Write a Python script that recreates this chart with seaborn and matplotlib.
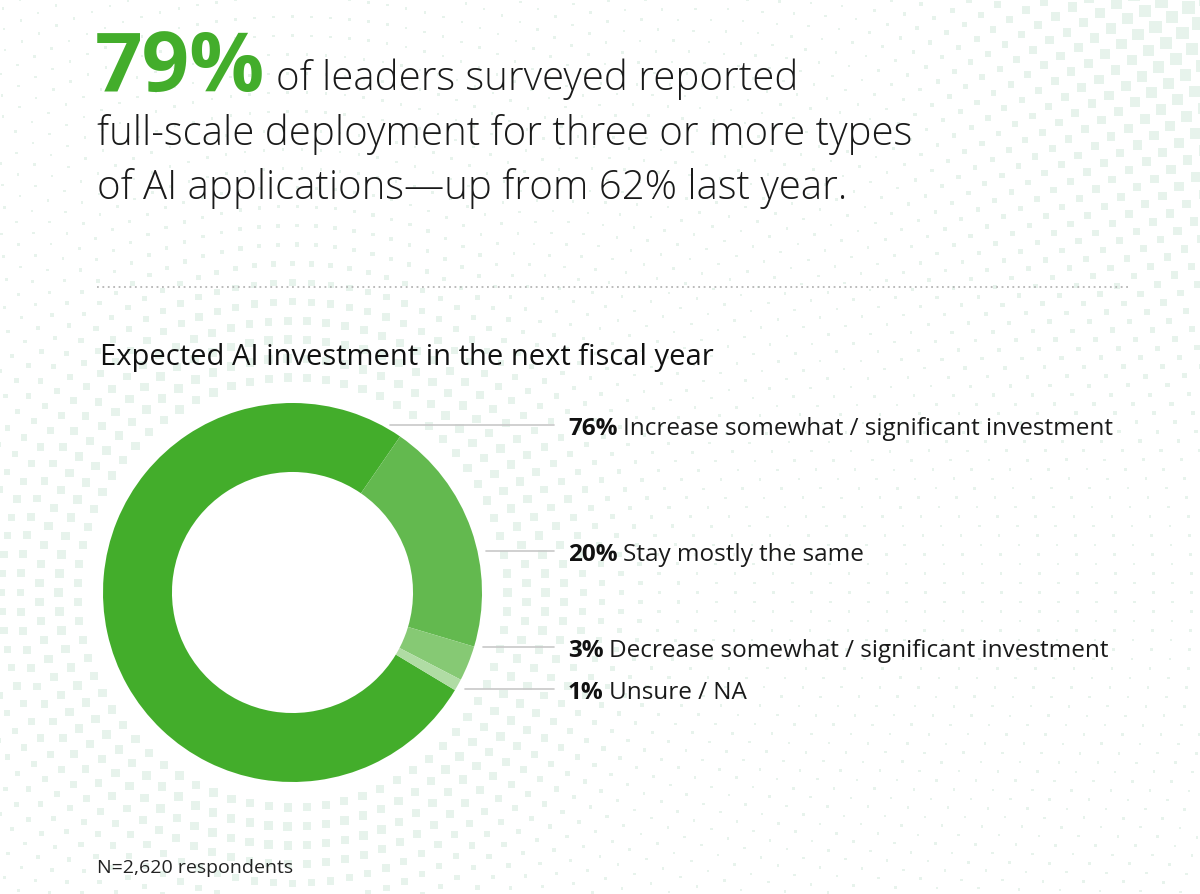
import numpy as np
import matplotlib.pyplot as plt
import seaborn as sns

sns.set_theme(style="white")
plt.rcParams['font.family'] = ['Open Sans', 'DejaVu Sans']

# chart content
headline_pct = "79%"
headline_lines = ["of leaders surveyed reported",
                  "full-scale deployment for three or more types",
                  "of AI applications\u2014up from 62% last year."]
chart_title = "Expected AI investment in the next fiscal year"
categories = ["Increase somewhat / significant investment",
              "Stay mostly the same",
              "Decrease somewhat / significant investment",
              "Unsure / NA"]
shares = [76, 20, 3, 1]
note = "N=2,620 respondents"

colors = ["#43ad2b", "#63b94f", "#86c974", "#b0dca4"]
label_y = [425, 551, 647, 689]   # label rows, px from top

fig = plt.figure(figsize=(12, 8.94), dpi=100)
fig.patch.set_facecolor("white")

# full-figure axes in pixel coordinates for text and decoration
bg = fig.add_axes([0, 0, 1, 1])
bg.set_xlim(0, 1200)
bg.set_ylim(894, 0)
bg.axis("off")

# halftone background pattern (decoration only)
cx, cy, R = 292.5, 592.5, 189.5
px, py, ps = [], [], []
for i, r in enumerate(np.arange(215, 1250, 19)):
    n = int(2 * np.pi * r / 19)
    th = np.linspace(0, 2 * np.pi, n, endpoint=False) + (i % 2) * np.pi / n
    x = cx + r * np.cos(th)
    y = cy + r * np.sin(th)
    s = 2.5 + 6 * np.exp(-((r - 240) / 100) ** 2)
    s = s + 11 * np.clip((x - 880) / 300, 0, 1) * np.clip((480 - y) / 480, 0, 1)
    px.extend(x); py.extend(y); ps.extend(s)
ps = np.array(ps)
bg.scatter(px, py, s=(0.72 * ps) ** 2, marker="s", color="#e7f3ec",
           linewidths=0, zorder=0)

# headline
bg.text(95, 91, headline_pct, fontsize=60, weight="bold", color="#43ad2b",
        va="baseline")
bg.text(276, 90, headline_lines[0], fontsize=28.9, weight="light",
        color="#1a1a1a", va="baseline")
bg.text(97, 145, headline_lines[1], fontsize=28.9, weight="light",
        color="#1a1a1a", va="baseline")
bg.text(97, 199, headline_lines[2], fontsize=28.9, weight="light",
        color="#1a1a1a", va="baseline")

# dotted separator
bg.plot([97, 1130], [287, 287], ls=(0, (1, 2)), color="#b5b5b5", lw=1.3)

bg.text(100, 365, chart_title, fontsize=21, color="#111111", va="baseline")

# leader lines + labels
for y, v, cat in zip(label_y, shares, categories):
    x0 = cx + np.sqrt(R ** 2 - (y - cy) ** 2) + 9
    bg.plot([x0, 554], [y, y], color="#c8c8c8", lw=1.2, zorder=1)
    t = bg.text(568, y + 10, f"{v}%", fontsize=17.5, weight="bold",
                color="#111111", va="baseline")
    bg.annotate(cat, xy=(1, 0), xycoords=t, xytext=(4, 0),
                textcoords="offset points", va="bottom", fontsize=17.5,
                color="#1a1a1a")

bg.text(97, 873, note, fontsize=14, color="#222222", va="baseline")

# donut
ax = fig.add_axes([(cx - R) / 1200, (894 - cy - R) / 894, 2 * R / 1200, 2 * R / 894])
ax.pie(shares, colors=colors, startangle=-31, counterclock=False,
       wedgeprops=dict(width=0.364, edgecolor="none"), radius=1)
ax.set_xlim(-1, 1)
ax.set_ylim(-1, 1)
ax.set_facecolor("none")
ax.axis("off")

fig.savefig("out.png", dpi=100, facecolor="white")
